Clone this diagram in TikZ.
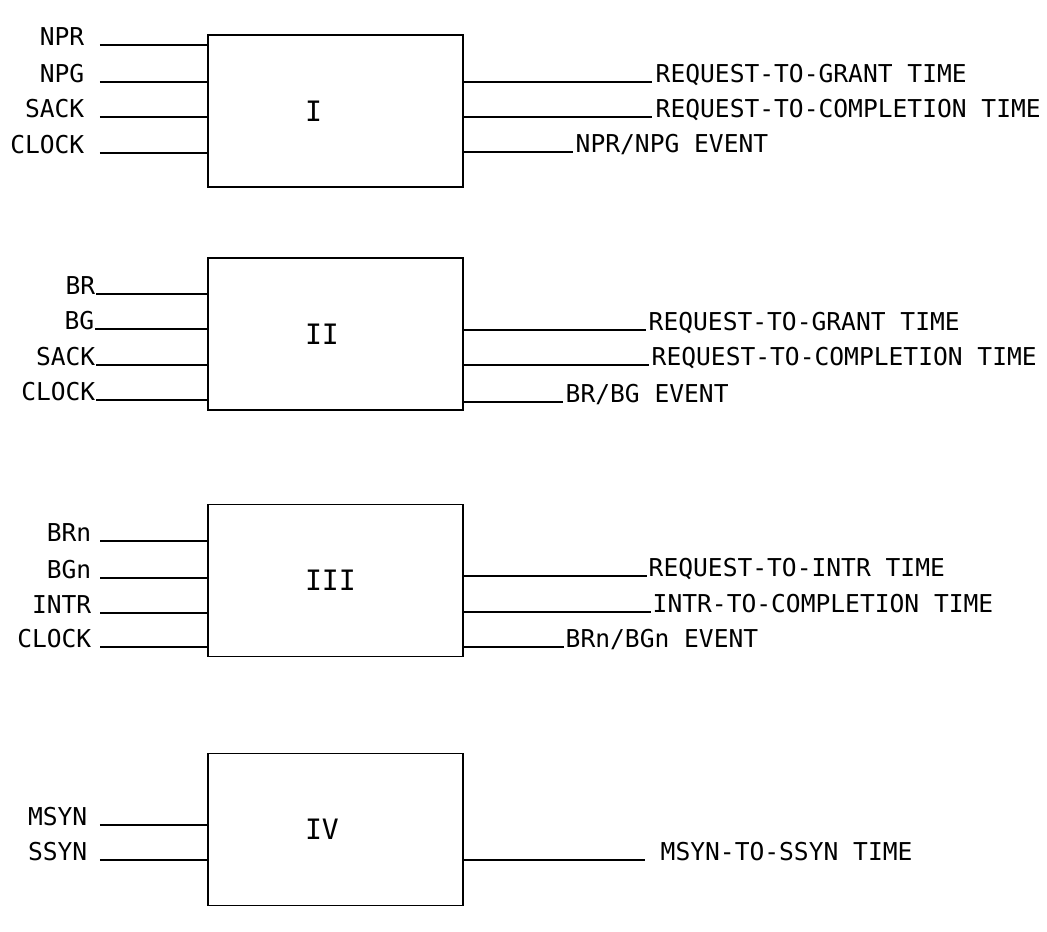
\documentclass[tikz,border=0pt]{standalone}
\usepackage{fontspec}
\setmonofont{DejaVu Sans Mono}
\usetikzlibrary{positioning}

\begin{document}
\begin{tikzpicture}[
    x=0.02cm, y=-0.02cm,
    line width=0.8pt,
    sigfont/.style={font=\ttfamily\fontsize{14}{14}\selectfont},
    block/.style={
        draw, rectangle, font=\ttfamily\fontsize{16}{16}\selectfont,
        minimum width=5.1cm, minimum height=3.04cm,
        text width=1.22cm, inner xsep=1.94cm, align=left
    },
    in label/.style={sigfont, anchor=base east, inner sep=0pt},
    out label/.style={sigfont, anchor=base west, inner sep=0pt}
  ]

  \useasboundingbox (0,0) rectangle (1047,931);

  % block I
  \node[block] (boxI) at (335.5,111) {I};

  \node[in label] (nprI)   at (85,45)  {NPR};
  \node[in label] (npgI)   at (85,82)  {NPG};
  \node[in label] (sackI)  at (85,117) {SACK};
  \node[in label] (clockI) at (85,153) {CLOCK};

  \draw ([xshift=0.3cm]nprI.base east)   -- (nprI.base -| boxI.west);
  \draw ([xshift=0.3cm]npgI.base east)   -- (npgI.base -| boxI.west);
  \draw ([xshift=0.3cm]sackI.base east)  -- (sackI.base -| boxI.west);
  \draw ([xshift=0.3cm]clockI.base east) -- (clockI.base -| boxI.west);

  \node[out label] (grantI) at (655,82)  {REQUEST-TO-GRANT TIME};
  \node[out label] (complI) at (655,117) {REQUEST-TO-COMPLETION TIME};
  \node[out label] (eventI) at (575,152) {NPR/NPG EVENT};

  \draw (grantI.base -| boxI.east) -- ([xshift=-0.06cm]grantI.base west);
  \draw (complI.base -| boxI.east) -- ([xshift=-0.06cm]complI.base west);
  \draw (eventI.base -| boxI.east) -- ([xshift=-0.04cm]eventI.base west);

  % block II
  \node[block] (boxII) at (335.5,334) {II};

  \node[in label] (brII)    at (96,294) {BR};
  \node[in label] (bgII)    at (95,329) {BG};
  \node[in label] (sackII)  at (96,365) {SACK};
  \node[in label] (clockII) at (96,400) {CLOCK};

  \draw (brII.base east)    -- (brII.base -| boxII.west);
  \draw (bgII.base east)    -- (bgII.base -| boxII.west);
  \draw (sackII.base east)  -- (sackII.base -| boxII.west);
  \draw (clockII.base east) -- (clockII.base -| boxII.west);

  \node[out label] (grantII) at (648,330) {REQUEST-TO-GRANT TIME};
  \node[out label] (complII) at (651,365) {REQUEST-TO-COMPLETION TIME};
  \node[out label] (eventII) at (565,402) {BR/BG EVENT};

  \draw (grantII.base -| boxII.east) -- ([xshift=-0.04cm]grantII.base west);
  \draw (complII.base -| boxII.east) -- ([xshift=-0.04cm]complII.base west);
  \draw (eventII.base -| boxII.east) -- ([xshift=-0.04cm]eventII.base west);

  % block III
  \node[block] (boxIII) at (335.5,580.5) {III};

  \node[in label] (brnIII)   at (92,541) {BRn};
  \node[in label] (bgnIII)   at (92,578) {BGn};
  \node[in label] (intrIII)  at (92,613) {INTR};
  \node[in label] (clockIII) at (92,647) {CLOCK};

  \draw ([xshift=0.16cm]brnIII.base east)   -- (brnIII.base -| boxIII.west);
  \draw ([xshift=0.16cm]bgnIII.base east)   -- (bgnIII.base -| boxIII.west);
  \draw ([xshift=0.16cm]intrIII.base east)  -- (intrIII.base -| boxIII.west);
  \draw ([xshift=0.16cm]clockIII.base east) -- (clockIII.base -| boxIII.west);

  \node[out label] (intrtIII)  at (648,576) {REQUEST-TO-INTR TIME};
  \node[out label] (complIII)  at (652,612) {INTR-TO-COMPLETION TIME};
  \node[out label] (eventIII)  at (565,647) {BRn/BGn EVENT};

  \draw (intrtIII.base -| boxIII.east) -- ([xshift=-0.02cm]intrtIII.base west);
  \draw (complIII.base -| boxIII.east) -- ([xshift=-0.02cm]complIII.base west);
  \draw (eventIII.base -| boxIII.east) -- ([xshift=-0.02cm]eventIII.base west);

  % block IV
  \node[block] (boxIV) at (335.5,829.5) {IV};

  \node[in label] (msynIV) at (88,825) {MSYN};
  \node[in label] (ssynIV) at (88,860) {SSYN};

  \draw ([xshift=0.24cm]msynIV.base east) -- (msynIV.base -| boxIV.west);
  \draw ([xshift=0.24cm]ssynIV.base east) -- (ssynIV.base -| boxIV.west);

  \node[out label] (timeIV) at (660,860) {MSYN-TO-SSYN TIME};

  \draw (timeIV.base -| boxIV.east) -- ([xshift=-0.3cm]timeIV.base west);

\end{tikzpicture}
\end{document}
